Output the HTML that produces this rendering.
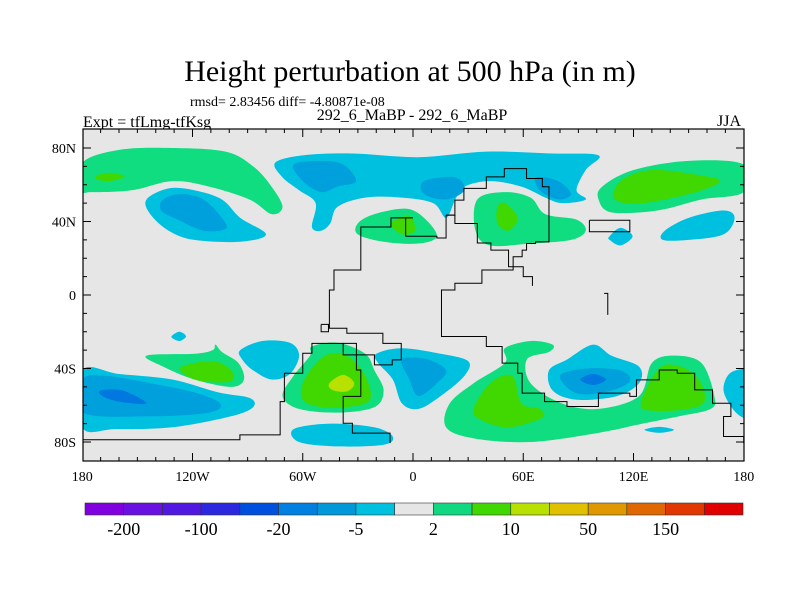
<!DOCTYPE html>
<html><head><meta charset="utf-8"><style>
body{margin:0;background:#fff}
svg{display:block;font-family:"Liberation Serif",serif}
</style></head><body>
<svg id="chart" width="800" height="600" viewBox="0 0 800 600">
<text x="410" y="81" font-size="30" text-anchor="middle">Height perturbation at 500 hPa (in m)</text>
<text x="190" y="106" font-size="14">rmsd= 2.83456 diff= -4.80871e-08</text>
<text x="83" y="127" font-size="16">Expt = tfLmg-tfKsg</text>
<text x="412" y="120" font-size="16" text-anchor="middle">292_6_MaBP - 292_6_MaBP</text>
<text x="741" y="126" font-size="16" text-anchor="end">JJA</text>
<defs><clipPath id="clip"><rect x="83" y="129" width="661" height="332"/></clipPath></defs>
<rect x="83" y="129" width="661" height="332" fill="#e6e6e6"/>
<g id="fills" clip-path="url(#clip)"></g>
<g id="coast" clip-path="url(#clip)" fill="none" stroke="#000" stroke-width="1"></g>
<rect x="83" y="129" width="661" height="332" fill="none" stroke="#000" stroke-width="1.2"/>
<g id="axes"></g>
<g id="cbar"></g>
</svg>
<script>
const lonTicks=[-180,-120,-60,0,60,120,180];
const lonLabels=["180","120W","60W","0","60E","120E","180"];
const latTicks=[80,40,0,-40,-80];
const latLabels=["80N","40N","0","40S","80S"];
const cbarColors=["#8000e0","#6a10e0","#5018e0","#2c28e0","#0050e0","#0080e0","#0098d8","#00c0e0","#e6e6e6","#10d880","#40d800","#b8e000","#e0c000","#e09800","#e06800","#e03800","#e00000"];
const cbarLabels=["-200","-100","-20","-5","2","10","50","150"];
const C1="#00c0e0",C2="#00a0dc",C3="#0078e0",G1="#10dc80",G2="#40d800",G3="#b8e000";
const regions=[
[G1,[[-180,72],[-160,79],[-131,80],[-102,78],[-87,70],[-77,59],[-71,48],[-77,44],[-89,52],[-111,59],[-131,62],[-153,57],[-175,56],[-180,57]]],
[G1,[[180,71],[150,73],[120,68],[103,59],[101,52],[108,45],[133,46],[157,52],[180,56]]],
[G2,[[113,62],[130,68],[157,65],[167,62],[154,56],[125,50],[110,52]]],
[G2,[[-172,65],[-165,66.5],[-157,64.5],[-165,62],[-172,63]]],
[C1,[[-145,52],[-133,58],[-119,57],[-104,52],[-94,42],[-80,33],[-94,29],[-119,30],[-133,35],[-143,44]]],
[C2,[[-136,52],[-126,55],[-114,52],[-104,42],[-102,36],[-114,35],[-128,41],[-137,46]]],
[C1,[[-75,72],[-60,76],[-33,77],[3,75],[40,78],[76,77],[101,76],[94,68],[89,57],[94,52],[81,50],[72,53],[59,59],[42,62],[28,59],[23,52],[18,42],[11,50],[-6,53],[-26,53],[-41,48],[-45,39],[-50,35],[-55,37],[-53,50],[-62,57],[-71,64]]],
[C2,[[-65,71],[-50,73],[-38,71],[-31,62],[-41,59],[-50,56],[-60,62]]],
[C2,[[6,62],[23,64],[28,57],[18,52],[6,55]]],
[C2,[[67,64],[79,62],[86,55],[79,52],[69,57]]],
[G1,[[-30,39],[-21,44],[-4,47],[6,42],[13,32],[3,28],[-16,29],[-30,33]]],
[G2,[[-12,39],[-2,43],[1,35],[-6,33]]],
[G1,[[35,52],[50,56],[64,53],[72,44],[89,41],[94,35],[86,30],[64,28],[42,27],[34,35]]],
[G2,[[46,48],[50,50],[57,42],[52,35],[46,39]]],
[C1,[[107,32],[113,36.5],[119.5,32],[113,27],[107,30]]],
[C1,[[137,35],[150,42],[169,46],[175,42],[169,33],[150,30],[136,30]]],
[C1,[[-131,-22],[-127,-20],[-123.5,-22.5],[-127,-25],[-131,-23.5]]],
[C1,[[-180,-41],[-160,-43],[-131,-46],[-106,-53],[-89,-56],[-87,-61],[-99,-66],[-131,-72],[-162,-73],[-180,-72]]],
[C2,[[-180,-46],[-167,-44],[-143,-48],[-119,-53],[-105,-59],[-111,-64],[-143,-66],[-180,-64]]],
[C3,[[-170,-52],[-158,-52],[-145,-59],[-160,-58],[-169,-55]]],
[C1,[[185,-40],[180,-40],[172,-43],[169,-52],[174,-62],[180,-67],[185,-67]]],
[G1,[[-145,-33],[-119,-32],[-109,-30],[-107.5,-27],[-104,-31],[-95,-37],[-92,-46],[-99,-50],[-119,-46],[-136,-39]]],
[G2,[[-126,-39],[-109,-36],[-99,-41],[-99,-47],[-114,-47],[-123,-44]]],
[C1,[[-94,-30],[-82,-25],[-67,-26],[-62,-33],[-67,-43],[-77,-46],[-87,-41],[-93,-35]]],
[G1,[[-55,-28],[-41,-26],[-26,-32],[-21,-41],[-16,-52],[-21,-61],[-41,-64],[-62,-62],[-71,-55],[-65,-44],[-56,-33]]],
[G2,[[-59,-46],[-48,-33],[-36,-33],[-26,-44],[-23.5,-57],[-36,-61],[-50,-61],[-60,-57]]],
[G3,[[-45.5,-48],[-38,-43.5],[-32,-48],[-36,-52.5],[-44,-51.6]]],
[C1,[[-65,-73],[-45,-70],[-21,-72],[-11,-77],[-16,-81.5],[-41,-82.4],[-62,-80]]],
[C1,[[-20,-32],[-6,-29],[15,-32],[30,-36],[28,-44],[15,-55],[3,-62],[-6,-59],[-11,-46],[-19,-37]]],
[C2,[[-6,-35],[8,-35],[18,-41],[13,-48],[3,-55],[-2,-46]]],
[G1,[[18,-72],[20,-59],[33,-48],[50,-37],[50,-29],[64,-25],[76,-27],[74,-31],[62,-35],[64,-48],[81,-59],[101,-62],[123,-55],[130,-37],[142,-33],[157,-37],[164,-55],[162,-62],[145,-66],[125,-70],[101,-75],[64,-80],[33,-78]]],
[G2,[[33,-62],[42,-48],[54,-44],[59,-59],[69,-62],[70,-67],[52,-72],[37,-68]]],
[G2,[[124,-59],[133,-41],[142,-38],[154,-44],[159,-57],[150,-62],[130,-63]]],
[C1,[[74,-41],[84,-35],[98,-27],[108,-33],[123,-39],[123,-48],[111,-55],[89,-57],[76,-52]]],
[C2,[[80,-44],[94,-40],[113,-41],[118,-47],[106,-52.5],[89,-53.5]]],
[C3,[[91,-46],[98,-43],[105,-46],[98,-49]]],
[C1,[[126,-73.4],[134,-71.8],[142,-73.4],[134,-75]]]
];
const coasts=[
[[18,43.5],[22.8,51.6],[27.7,58],[39.9,64.3],[49.7,68.8],[61.8,63.4],[70.4,58.9],[74,53.4],[74,28.9],[66.7,28],[61.8,24.4],[59.4,20.8],[54.5,13.6],[48.5,13.6],[37.5,6.4],[22.8,2.7],[15.5,-15.4],[15.5,-22.6],[39.9,-28],[48.5,-37.1],[57,-42.6],[59.4,-53.4],[71.6,-58],[83.8,-60.7],[100.9,-53.4],[118,-55.2],[121.6,-46.2],[134,-40.8],[143.8,-42.6],[153.3,-51.6],[163,-58.9],[173,-66.1],[169,-77],[180,-80.6]],
[[18,43.5],[22.8,38.9],[35,28.3],[42.4,24.4],[52,15.4],[60,10],[65,5]],
[[-23.5,37],[-12,42],[0,42],[-4,32],[13,31],[18,43.5]],
[[-23.5,37],[-28.4,13.6],[-35.7,13.6],[-43,2.7],[-45.5,-18.1],[-36,-20.8],[-16.4,-26.3],[-6.4,-35.3],[-11.3,-38],[-21,-32.6],[-38,-26.3],[-55,-31.7],[-60,-42.6],[-70,-58],[-72.3,-76.1],[-94.2,-78.8],[-180,-80.6]],
[[-38,-26.3],[-30.8,-40.8],[-28.4,-55.2],[-38,-69.8],[-33,-75.2],[-12.5,-78.8],[-12.5,-80.6]],
[[96,40.7],[118,40.7],[118,34.4],[96,34.4],[96,40.7]],
[[104,0.9],[106,0.9],[106,-10.8]],
[[-50,-16],[-50,-20],[-46,-20],[-46,-16],[-50,-16]]
];
const X=lon=>413+lon*1.8375, Y=lat=>295-lat*1.8375;
const NS="http://www.w3.org/2000/svg";
function smooth(pts){
  const p=pts.map(q=>[X(q[0]),Y(q[1])]),n=p.length;let d=`M${p[0][0]},${p[0][1]}`;
  for(let i=0;i<n;i++){const a=p[(i-1+n)%n],b=p[i],c=p[(i+1)%n],e=p[(i+2)%n];
    d+=`C${b[0]+(c[0]-a[0])/6},${b[1]+(c[1]-a[1])/6} ${c[0]-(e[0]-b[0])/6},${c[1]-(e[1]-b[1])/6} ${c[0]},${c[1]}`;}
  return d+"Z";}
const fills=document.getElementById('fills');
regions.forEach((r,i)=>{const el=document.createElementNS(NS,'path');
  el.setAttribute('d',smooth(r[1]));el.setAttribute('fill',r[0]);
  
  
  fills.appendChild(el);});
const coast=document.getElementById('coast');
coasts.forEach(c=>{let d="";c.forEach((q,i)=>{const x=X(q[0]),y=Y(q[1]);
  if(i===0)d=`M${x},${y}`;else{d+=`H${x}V${y}`;}});
  const el=document.createElementNS(NS,'path');el.setAttribute('d',d);
  
  
  coast.appendChild(el);});
const axes=document.getElementById('axes');
function line(x1,y1,x2,y2){const l=document.createElementNS(NS,'line');
  l.setAttribute('x1',x1);l.setAttribute('y1',y1);l.setAttribute('x2',x2);l.setAttribute('y2',y2);l.setAttribute('stroke','#000');
  
  
  axes.appendChild(l);}
function txt(x,y,s,anchor,size,parent,name){const t=document.createElementNS(NS,'text');
  t.setAttribute('x',x);t.setAttribute('y',y);t.setAttribute('text-anchor',anchor);t.setAttribute('font-size',size);t.textContent=s;
  
  
  parent.appendChild(t);}
for(let lon=-170;lon<180;lon+=10){const x=X(lon),m=lon%60===0;const L=m?8:4;line(x,129,x,129+L);line(x,461,x,461-L);}
for(let lat=-80;lat<=80;lat+=10){const y=Y(lat),m=lat%40===0;const L=m?8:4;line(83,y,83+L,y);line(744,y,744-L,y);}
lonTicks.forEach((l,i)=>txt(X(l),481,lonLabels[i],'middle',14,axes,'x-tick-label'));
latTicks.forEach((l,i)=>txt(76,Y(l)+5,latLabels[i],'end',14,axes,'y-tick-label'));
const cb=document.getElementById('cbar');const cx0=85,cw=(743-85)/cbarColors.length;
cbarColors.forEach((c,i)=>{const r=document.createElementNS(NS,'rect');
  r.setAttribute('x',cx0+i*cw);r.setAttribute('y',503);r.setAttribute('width',cw);r.setAttribute('height',12);
  r.setAttribute('fill',c);r.setAttribute('stroke','#333');r.setAttribute('stroke-width','0.6');
  
  
  cb.appendChild(r);});
cbarLabels.forEach((s,i)=>txt(cx0+(2*i+1)*cw,535,s,'middle',18,cb,'colorbar-label'));
</script>
</body></html>
